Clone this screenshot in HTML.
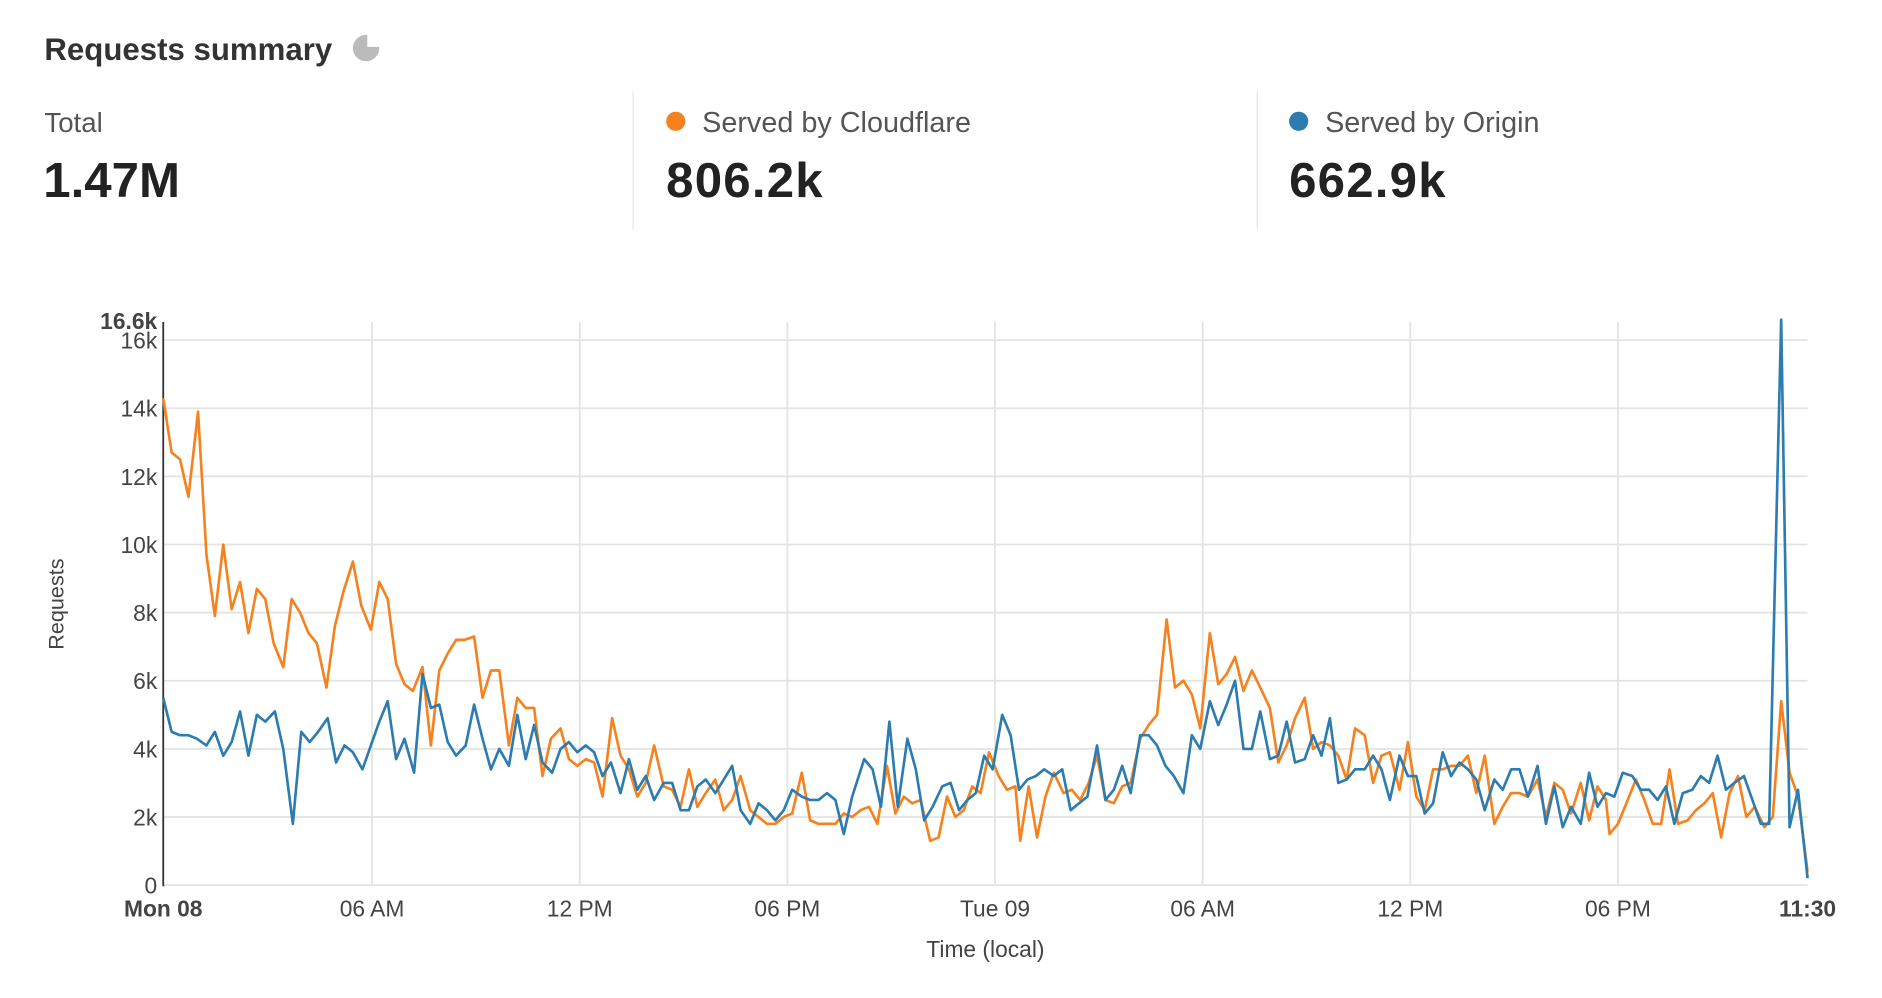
<!DOCTYPE html>
<html><head><meta charset="utf-8">
<style>
html,body{margin:0;padding:0;background:#fff;}
svg{display:block;font-family:"Liberation Sans",sans-serif;}
</style></head>
<body>
<svg id="s" width="1882" height="998" viewBox="0 0 1568 831" preserveAspectRatio="none">
<text x="37" y="50" font-size="26" font-weight="bold" fill="#333">Requests summary</text>
<circle cx="305" cy="40" r="11" fill="#bbb"/>
<path d="M305 40 L305 29 A11 11 0 0 1 316 40 Z" fill="#fff" transform="translate(1,-1)"/>
<line x1="527.5" y1="76" x2="527.5" y2="191" stroke="#e5e5e5"/>
<line x1="1047.5" y1="76" x2="1047.5" y2="191" stroke="#e5e5e5"/>
<text x="37" y="110" font-size="23" fill="#555">Total</text>
<text x="36" y="164" font-size="41" font-weight="bold" fill="#222">1.47M</text>
<circle cx="563" cy="101" r="8" fill="#f6821f"/>
<text x="585" y="110" font-size="24" fill="#555">Served by Cloudflare</text>
<text x="555" y="164" font-size="41" font-weight="bold" fill="#222" letter-spacing="1">806.2k</text>
<circle cx="1082" cy="101" r="8" fill="#2c7cb0"/>
<text x="1104" y="110" font-size="24" fill="#555">Served by Origin</text>
<text x="1074" y="164" font-size="41" font-weight="bold" fill="#222" letter-spacing="1">662.9k</text>
<g id="grid" stroke="#e3e3e3" stroke-width="1.5"></g>
<g id="labels" font-size="19" fill="#444"></g>
<line x1="136" y1="268" x2="136" y2="738" stroke="#333" stroke-width="1.5"/>
<text x="131" y="274" font-size="19" font-weight="bold" fill="#444" text-anchor="end">16.6k</text>
<text transform="translate(53,503) rotate(-90)" font-size="18" fill="#444" text-anchor="middle">Requests</text>
<text x="821" y="797" font-size="19" fill="#444" text-anchor="middle">Time (local)</text>
<polyline id="o" fill="none" stroke="#f6821f" stroke-width="2.2" stroke-linejoin="round"/>
<polyline id="b" fill="none" stroke="#2c7cb0" stroke-width="2.2" stroke-linejoin="round"/>
</svg>
<script>
var NS="http://www.w3.org/2000/svg";
function el(t,a,p,txt){var e=document.createElementNS(NS,t);for(var k in a)e.setAttribute(k,a[k]);if(txt!=null)e.textContent=txt;p.appendChild(e);return e;}
var g=document.getElementById('grid'),L=document.getElementById('labels');
function Y(v){return 737-v*28.36;}
for(var i=0;i<=8;i++){var y=Y(i*2);el('line',{x1:136,x2:1506,y1:y,y2:y},g);el('text',{x:131,y:y+7,'text-anchor':'end'},L,i==0?'0':(i*2)+'k');}
var xs=[310,483,656,829,1002,1175,1348],nm=['06 AM','12 PM','06 PM','Tue 09','06 AM','12 PM','06 PM'];
xs.forEach(function(x,i){el('line',{x1:x,x2:x,y1:268,y2:737},g);el('text',{x:x,y:763,'text-anchor':'middle'},L,nm[i]);});
el('text',{x:136,y:763,'text-anchor':'middle','font-weight':'bold'},L,'Mon 08');
el('text',{x:1506,y:763,'text-anchor':'middle','font-weight':'bold'},L,'11:30');
var O="136:14.3,143:12.7,150:12.5,157:11.4,165:13.9,172:9.7,179:7.9,186:10,193:8.1,200:8.9,207:7.4,214:8.7,221:8.4,228:7.1,236:6.4,243:8.4,250:8.0,257:7.4,264:7.1,272:5.8,279:7.6,286:8.6,294:9.5,301:8.2,309:7.5,316:8.9,323:8.4,330:6.5,337:5.9,344:5.7,352:6.4,359:4.1,366:6.3,373:6.8,380:7.2,387:7.2,395:7.3,402:5.5,409:6.3,416:6.3,424:4.1,431:5.5,438:5.2,445:5.2,452:3.2,459:4.3,467:4.6,474:3.7,481:3.5,488:3.7,495:3.6,502:2.6,510:4.9,517:3.8,524:3.4,531:2.6,538:3.0,545:4.1,553:2.9,560:2.8,567:2.3,574:3.4,581:2.3,588:2.7,596:3.1,603:2.2,610:2.5,617:3.2,625:2.2,632:2.0,639:1.8,646:1.8,653:2.0,660:2.1,668:3.3,675:1.9,682:1.8,689:1.8,696:1.8,703:2.1,710:2.0,717:2.2,724:2.3,731:1.8,739:3.5,746:2.1,753:2.6,760:2.4,767:2.5,775:1.3,782:1.4,789:2.6,796:2.0,803:2.2,810:2.9,817:2.7,824:3.9,832:3.2,839:2.8,846:2.9,850:1.3,857:2.9,864:1.4,871:2.6,878:3.3,886:2.7,893:2.8,900:2.5,907:3.0,914:3.8,921:2.5,928:2.4,935:2.9,942:3.0,950:4.3,957:4.7,964:5.0,972:7.8,979:5.8,986:6.0,993:5.6,1000:4.6,1008:7.4,1015:5.9,1022:6.2,1029:6.7,1036:5.7,1043:6.3,1050:5.8,1058:5.2,1065:3.6,1072:4.1,1079:4.9,1087:5.5,1094:4.0,1101:4.2,1108:4.1,1115:3.8,1122:3.1,1129:4.6,1137:4.4,1144:3.0,1151:3.8,1158:3.9,1166:2.8,1173:4.2,1180:2.6,1187:2.2,1194:3.4,1202:3.4,1209:3.5,1216:3.5,1223:3.8,1230:2.7,1237:3.8,1245:1.8,1252:2.3,1259:2.7,1266:2.7,1273:2.6,1281:3.1,1288:2.0,1295:3.0,1302:2.8,1309:2.1,1317:3.0,1324:1.9,1331:2.9,1338:2.5,1341:1.5,1348:1.8,1355:2.4,1363:3.1,1370:2.5,1377:1.8,1384:1.8,1391:3.4,1398:1.8,1406:1.9,1413:2.2,1420:2.4,1427:2.7,1434:1.4,1441:2.7,1448:3.2,1455:2.0,1462:2.3,1470:1.7,1477:2.0,1484:5.4,1491:3.3,1498:2.6,1506:0.4";
var B="136:5.5,143:4.5,150:4.4,157:4.4,164:4.3,172:4.1,179:4.5,186:3.8,193:4.2,200:5.1,207:3.8,214:5.0,221:4.8,229:5.1,236:4.0,244:1.8,251:4.5,258:4.2,265:4.5,273:4.9,280:3.6,287:4.1,294:3.9,302:3.4,309:4.1,316:4.8,323:5.4,330:3.7,337:4.3,345:3.3,352:6.2,359:5.2,366:5.3,373:4.2,380:3.8,388:4.1,395:5.3,402:4.3,409:3.4,416:4.0,424:3.5,431:5.0,438:3.7,445:4.7,452:3.6,460:3.3,467:4.0,474:4.2,481:3.9,488:4.1,495:3.9,502:3.2,509:3.6,517:2.7,524:3.7,531:2.8,538:3.2,545:2.5,553:3.0,560:3.0,567:2.2,574:2.2,581:2.9,588:3.1,596:2.7,603:3.1,610:3.5,617:2.2,625:1.8,632:2.4,639:2.2,646:1.9,653:2.2,660:2.8,668:2.6,675:2.5,682:2.5,689:2.7,696:2.5,703:1.5,710:2.6,720:3.7,727:3.4,734:2.3,741:4.8,748:2.3,756:4.3,763:3.4,770:1.9,777:2.3,785:2.9,792:3.0,799:2.2,806:2.5,813:2.7,820:3.8,827:3.4,835:5.0,842:4.4,849:2.8,856:3.1,863:3.2,870:3.4,878:3.2,885:3.4,892:2.2,899:2.4,906:2.6,914:4.1,921:2.5,928:2.8,935:3.5,942:2.7,950:4.4,957:4.4,964:4.1,971:3.5,978:3.2,986:2.7,993:4.4,1000:4.0,1008:5.4,1015:4.7,1022:5.3,1029:6.0,1036:4.0,1043:4.0,1050:5.1,1058:3.7,1065:3.8,1072:4.8,1079:3.6,1087:3.7,1094:4.4,1101:3.8,1108:4.9,1115:3.0,1122:3.1,1129:3.4,1137:3.4,1144:3.8,1151:3.4,1158:2.5,1166:3.8,1173:3.2,1180:3.2,1187:2.1,1194:2.4,1202:3.9,1209:3.2,1216:3.6,1223:3.4,1230:3.1,1237:2.2,1245:3.1,1252:2.8,1259:3.4,1266:3.4,1273:2.6,1281:3.5,1288:1.8,1295:2.9,1302:1.7,1309:2.3,1317:1.8,1324:3.3,1331:2.3,1338:2.7,1345:2.6,1352:3.3,1360:3.2,1367:2.8,1374:2.8,1381:2.5,1388:2.9,1395:1.8,1402:2.7,1410:2.8,1417:3.2,1424:3.0,1431:3.8,1438:2.8,1445:3.0,1453:3.2,1460:2.5,1467:1.8,1474:1.8,1484:16.6,1491:1.7,1498:2.8,1506:0.2";
function pts(s){return s.split(',').map(function(p){var a=p.split(':');return a[0]+','+Y(+a[1]).toFixed(1);}).join(' ');}
document.getElementById('o').setAttribute('points',pts(O));
document.getElementById('b').setAttribute('points',pts(B));
</script>
</body></html>
